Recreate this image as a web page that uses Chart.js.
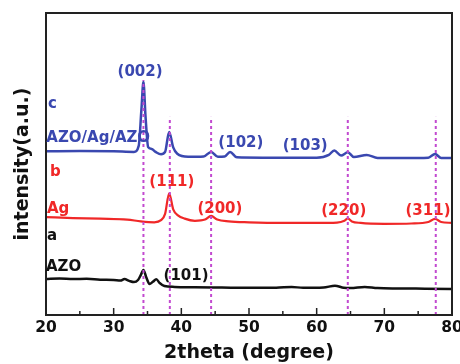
<!DOCTYPE html>
<html>
<head>
<meta charset="utf-8">
<script src="https://cdn.jsdelivr.net/npm/chart.js@4.4.1/dist/chart.umd.min.js"></script>
<style>
  html, body { margin: 0; padding: 0; background: #fff; }
  #wrap { width: 460px; height: 364px; }
</style>
</head>
<body>
<div id="wrap"><canvas id="xrd" width="460" height="364"></canvas></div>
<script>
'use strict';

//***********Data***********
let xMin = 20;
let xMax = 80;
let xStep = 10;

// a: AZO
let azoTheta = [20, 22, 24, 26, 28, 30, 31, 31.6, 32.3, 33, 33.6, 34, 34.4, 34.8, 35.3, 35.8, 36.3, 36.8, 37.5, 39, 42, 46, 50, 54, 56.3, 58, 61, 62.7, 64, 65, 67.1, 69, 72, 76, 80];
let azoCounts = [11.9, 12.1, 11.9, 12.0, 11.7, 11.6, 11.4, 11.9, 11.3, 10.9, 11.6, 13.2, 14.9, 12.6, 10.3, 11.0, 11.8, 10.6, 9.6, 9.3, 9.2, 9.1, 9.0, 9.0, 9.3, 9.0, 9.1, 9.7, 9.0, 8.9, 9.3, 8.9, 8.8, 8.7, 8.6];

// b: Ag
let agTheta = [20, 24, 28, 32, 34, 36, 37, 37.6, 38.2, 38.8, 39.5, 40.5, 42, 43.5, 44.4, 45.3, 47, 50, 55, 60, 63, 64.1, 64.6, 65.2, 66.5, 70, 74, 76.5, 77.5, 78.4, 80];
let agCounts = [32.4, 32.1, 31.9, 31.6, 31.0, 30.7, 31.4, 33.5, 40.3, 35.0, 33.0, 31.9, 31.2, 31.6, 32.8, 31.6, 31.0, 30.7, 30.5, 30.5, 30.6, 31.2, 32.0, 31.0, 30.5, 30.2, 30.3, 30.8, 31.8, 30.8, 30.5];

// c: AZO/Ag/AZO
let triTheta = [20, 25, 30, 33, 33.7, 34.1, 34.4, 34.7, 35.1, 35.6, 36.2, 37.0, 37.6, 38.2, 38.8, 39.4, 41, 43.3, 44.4, 45.4, 46.4, 47.2, 48.2, 52, 56, 60, 61.8, 62.6, 63.6, 64.6, 65.5, 67.4, 69, 73, 76.5, 77.5, 78.4, 80];
let triCounts = [54.2, 54.3, 54.2, 54.0, 56.0, 68.0, 77.2, 66.0, 55.6, 55.0, 54.0, 53.2, 54.0, 60.6, 55.5, 53.4, 52.4, 52.5, 54.0, 52.4, 52.5, 54.0, 52.2, 52.1, 52.1, 52.1, 53.0, 54.5, 52.8, 53.9, 52.3, 53.0, 52.0, 52.0, 52.1, 53.3, 52.0, 52.0];

// dotted reference lines
let peakTheta = [34.4, 38.3, 44.4, 64.6, 77.6];
let peakTop = [77.8, 65.6, 65.6, 65.6, 65.6];

//***********Labels***********
let blue = '#3a48b0';
let red = '#f02828';
let black = '#111111';
let notes = [
  { text: 'c', x: 20.3, y: 69.9, color: blue, align: 'left' },
  { text: 'AZO/Ag/AZO', x: 20.05, y: 58.6, color: blue, align: 'left' },
  { text: '(002)', x: 33.9, y: 80.5, color: blue, align: 'center' },
  { text: '(102)', x: 48.8, y: 57.0, color: blue, align: 'center' },
  { text: '(103)', x: 58.3, y: 56.0, color: blue, align: 'center' },
  { text: 'b', x: 20.6, y: 47.4, color: red, align: 'left' },
  { text: 'Ag', x: 20.15, y: 35.1, color: red, align: 'left' },
  { text: '(111)', x: 38.6, y: 44.0, color: red, align: 'center' },
  { text: '(200)', x: 45.7, y: 35.1, color: red, align: 'center' },
  { text: '(220)', x: 64.0, y: 34.4, color: red, align: 'center' },
  { text: '(311)', x: 76.45, y: 34.4, color: red, align: 'center' },
  { text: 'a', x: 20.15, y: 26.2, color: black, align: 'left' },
  { text: 'AZO', x: 20.0, y: 15.9, color: black, align: 'left' },
  { text: '(101)', x: 40.7, y: 12.9, color: black, align: 'center' }
];

//***********Helper functions***********
function toPoints(xs, ys) {
  return xs.map((x, i) => ({ x: x, y: ys[i] }));
}

function curve(label, xs, ys, color, width) {
  return {
    label: label,
    data: toPoints(xs, ys),
    borderColor: color,
    borderWidth: width,
    pointRadius: 0,
    cubicInterpolationMode: 'monotone',
    fill: false
  };
}

let datasets = [];
for (let i = 0; i < peakTheta.length; i++) {
  datasets.push({
    label: 'peak' + i,
    data: [{ x: peakTheta[i], y: 0 }, { x: peakTheta[i], y: peakTop[i] }],
    borderColor: '#c24ad0',
    borderWidth: 2,
    borderDash: [3, 3],
    pointRadius: 0
  });
}
datasets.push(curve('AZO/Ag/AZO', triTheta, triCounts, blue, 2.5));
datasets.push(curve('Ag', agTheta, agCounts, red, 2.2));
datasets.push(curve('AZO', azoTheta, azoCounts, black, 2.5));

//********Plugins***********
let framePlugin = {
  id: 'frame',
  afterDatasetsDraw(chart) {
    let ctx = chart.ctx;
    let area = chart.chartArea;
    let xs = chart.scales.x;
    ctx.save();
    ctx.strokeStyle = '#222';
    ctx.lineWidth = 2;
    ctx.strokeRect(area.left, area.top, area.right - area.left, area.bottom - area.top);
    ctx.lineWidth = 1.5;
    for (let v = xMin; v <= xMax; v += xStep / 2) {
      let px = xs.getPixelForValue(v);
      let len = (v % xStep === 0) ? 7 : 4;
      ctx.beginPath();
      ctx.moveTo(px, area.bottom);
      ctx.lineTo(px, area.bottom - len);
      ctx.stroke();
    }
    ctx.restore();
  }
};

let notePlugin = {
  id: 'notes',
  afterDraw(chart) {
    let ctx = chart.ctx;
    let xs = chart.scales.x;
    let ys = chart.scales.y;
    ctx.save();
    ctx.font = 'bold 15px "DejaVu Sans"';
    ctx.textBaseline = 'middle';
    notes.forEach(n => {
      ctx.fillStyle = n.color;
      ctx.textAlign = n.align;
      ctx.fillText(n.text, xs.getPixelForValue(n.x), ys.getPixelForValue(n.y));
    });
    ctx.restore();
  }
};

//********Chart render***********
let ctx = document.getElementById('xrd').getContext('2d');
new Chart(ctx, {
  type: 'line',
  data: { datasets: datasets },
  options: {
    responsive: false,
    animation: false,
    layout: { padding: { top: 13, right: 8, left: 0, bottom: 0 } },
    plugins: { legend: { display: false }, tooltip: { enabled: false } },
    scales: {
      x: {
        type: 'linear',
        min: xMin,
        max: xMax,
        grid: { display: false },
        border: { display: false },
        ticks: {
          stepSize: xStep,
          padding: -4,
          color: '#111',
          font: { family: 'DejaVu Sans', weight: 'bold', size: 15.5 }
        },
        title: {
          display: true,
          text: '2theta (degree)',
          color: '#111',
          padding: 0,
          font: { family: 'DejaVu Sans', weight: 'bold', size: 19 }
        },
        afterFit(scale) {
          scale.height = 49;
          scale.paddingLeft = 0;
          scale.paddingRight = 0;
        }
      },
      y: {
        min: 0,
        max: 100,
        grid: { display: false },
        border: { display: false },
        ticks: { display: false },
        title: {
          display: true,
          text: 'intensity(a.u.)',
          color: '#111',
          padding: { top: 12, bottom: 0 },
          font: { family: 'DejaVu Sans', weight: 'bold', size: 19 }
        },
        afterFit(scale) { scale.width = 46; }
      }
    }
  },
  plugins: [framePlugin, notePlugin]
});
</script>
</body>
</html>
